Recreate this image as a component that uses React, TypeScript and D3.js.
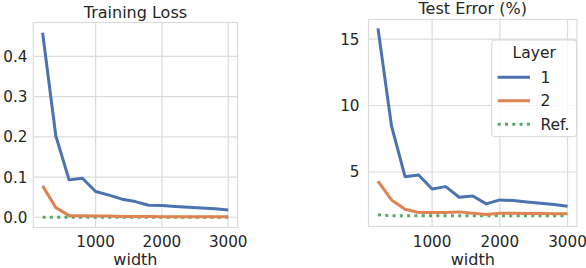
import React from "react";
import * as d3 from "d3";

const widths = [200, 400, 600, 800, 1000, 1200, 1400, 1600, 1800, 2000, 2200, 2400, 2600, 2800, 3000];
const trainLayer1 = [0.459, 0.202, 0.093, 0.097, 0.064, 0.055, 0.045, 0.039, 0.030, 0.029, 0.027, 0.025, 0.023, 0.021, 0.018];
const trainLayer2 = [0.078, 0.024, 0.004, 0.004, 0.003, 0.003, 0.002, 0.002, 0.002, 0.001, 0.001, 0.001, 0.001, 0.001, 0.001];
const trainRef = [0, 0, 0, 0, 0, 0, 0, 0, 0, 0, 0, 0, 0, 0, 0];
const testLayer1 = [15.8, 8.46, 4.65, 4.77, 3.72, 3.9, 3.1, 3.2, 2.6, 2.9, 2.85, 2.75, 2.65, 2.55, 2.42];
const testLayer2 = [4.32, 2.9, 2.2, 1.95, 1.95, 1.95, 2.0, 1.9, 1.8, 1.9, 1.9, 1.88, 1.87, 1.86, 1.85];
const testRef = [1.78, 1.7, 1.7, 1.7, 1.7, 1.7, 1.7, 1.7, 1.7, 1.7, 1.7, 1.7, 1.7, 1.7, 1.7];
const xTicks = [1000, 2000, 3000];
const trainYTicks = [0, 0.1, 0.2, 0.3, 0.4];
const testYTicks = [5, 10, 15];
const legendLabels = ["1", "2", "Ref."];

const BLUE = "#4c72b0";
const ORANGE = "#dd8452";
const GREEN = "#55a868";
const TEXT = "#262626";
const GRID = "#dcdcdc";
const FONT = "DejaVu Sans";
const TICK_FS = 15.2;

type PanelProps = {
  x0: number; x1: number; y0: number; y1: number;
  yDomain: [number, number];
  yTicks: number[];
  yFmt: (v: number) => string;
  title: string; titleY: number;
  s1: number[]; s2: number[]; sRef: number[];
  labelEnd: number;
};

function Panel(p: PanelProps) {
  const x = d3.scaleLinear().domain([60, 3140]).range([p.x0, p.x1]);
  const y = d3.scaleLinear().domain(p.yDomain).range([p.y1, p.y0]);
  const line = (vals: number[]) =>
    d3.line<number>().x((_, i) => x(widths[i])).y((v) => y(v))(vals) || "";
  const cx = (p.x0 + p.x1) / 2;
  return (
    <g>
      {xTicks.map((t) => (
        <line key={"gx" + t} x1={x(t)} x2={x(t)} y1={p.y0} y2={p.y1} stroke={GRID} strokeWidth={1.2} />
      ))}
      {p.yTicks.map((t) => (
        <line key={"gy" + t} x1={p.x0} x2={p.x1} y1={y(t)} y2={y(t)} stroke={GRID} strokeWidth={1.2} />
      ))}
      <rect x={p.x0} y={p.y0} width={p.x1 - p.x0} height={p.y1 - p.y0} fill="none" stroke={GRID} strokeWidth={1.2} />
      <path d={line(p.sRef)} fill="none" stroke={GREEN} strokeWidth={3} strokeDasharray="3 4.3" />
      <path d={line(p.s2)} fill="none" stroke={ORANGE} strokeWidth={3} strokeLinejoin="round" />
      <path d={line(p.s1)} fill="none" stroke={BLUE} strokeWidth={3} strokeLinejoin="round" />
      {xTicks.map((t) => (
        <text key={"tx" + t} x={x(t)} y={246.5} textAnchor="middle" fontSize={TICK_FS} fill={TEXT} fontFamily={FONT}>{t}</text>
      ))}
      {p.yTicks.map((t) => (
        <text key={"ty" + t} x={p.labelEnd} y={y(t) + 5.5} textAnchor="end" fontSize={TICK_FS} fill={TEXT} fontFamily={FONT}>{p.yFmt(t)}</text>
      ))}
      <text x={cx} y={p.titleY} textAnchor="middle" fontSize={16} fill={TEXT} fontFamily={FONT}>{p.title}</text>
      <text x={cx} y={265} textAnchor="middle" fontSize={16} fill={TEXT} fontFamily={FONT}>width</text>
    </g>
  );
}

export default function App() {
  const legendColors = [BLUE, ORANGE, GREEN];
  return (
    <svg width={586} height={268} style={{ position: "absolute", left: 0, top: 0 }}>
      <rect width={586} height={268} fill="#ffffff" />
      <Panel x0={33.3} x1={237.5} y0={22.5} y1={227.5} yDomain={[-0.0255, 0.4845]} yTicks={trainYTicks}
        yFmt={(v) => v.toFixed(1)} title="Training Loss" titleY={17.5}
        s1={trainLayer1} s2={trainLayer2} sRef={trainRef} labelEnd={27.5} />
      <Panel x0={368.5} x1={577} y0={19.5} y1={226.5} yDomain={[0.9, 16.47]} yTicks={testYTicks}
        yFmt={(v) => String(v)} title="Test Error (%)" titleY={14}
        s1={testLayer1} s2={testLayer2} sRef={testRef} labelEnd={359.5} />
      <g>
        <rect x={491.7} y={40} width={85} height={96.7} rx={3} fill="#ffffff" fillOpacity={0.8} stroke="#d6d6d6" strokeWidth={1} />
        <text x={534.2} y={58.3} textAnchor="middle" fontSize={15.5} fill={TEXT} fontFamily={FONT}>Layer</text>
        {legendLabels.map((l, i) => {
          const ly = 77.3 + i * 23.5;
          return (
            <g key={l}>
              <line x1={497.7} x2={530} y1={ly} y2={ly} stroke={legendColors[i]} strokeWidth={3}
                strokeDasharray={i === 2 ? "3 4.3" : undefined} />
              <text x={540.5} y={ly + 5.5} fontSize={15.5} fill={TEXT} fontFamily={FONT}>{l}</text>
            </g>
          );
        })}
      </g>
    </svg>
  );
}
